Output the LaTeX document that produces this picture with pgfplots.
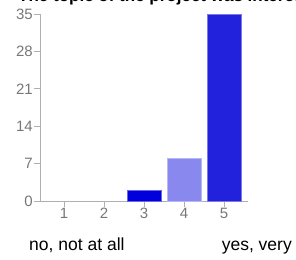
\documentclass[border=0pt]{standalone}
\usepackage{pgfplots}
\pgfplotsset{compat=1.18}
\usepackage{fontspec}
\setmainfont{Liberation Sans}
\definecolor{axgray}{HTML}{B0B0B0}
\definecolor{ticktext}{HTML}{777777}
\definecolor{barA}{HTML}{0000DD}
\definecolor{barB}{HTML}{8888EE}
\definecolor{barC}{HTML}{2222DD}
\begin{document}
\begin{tikzpicture}[x=1pt,y=1pt]
\useasboundingbox (0,0) rectangle (296,259);
\clip (0,0) rectangle (296,259);
\node[anchor=base west, inner sep=0pt, font=\fontsize{17}{20}\selectfont\bfseries] at (18,257) {The topic of the project was interesting};
\begin{axis}[
  at={(40pt,58pt)}, anchor=south west,
  scale only axis, width=208pt, height=187pt,
  xmin=0.4, xmax=5.6, ymin=0, ymax=35,
  axis x line*=bottom, axis y line*=left,
  axis line style={axgray, line width=0.8pt},
  xtick={1,2,3,4,5}, ytick={0,7,14,21,28,35},
  tick style={axgray, line width=0.8pt},
  major tick length=6pt,
  tick align=outside,
  /pgf/number format/assume math mode=true,
  ticklabel style={font=\fontsize{15}{17}\selectfont, text=ticktext, inner sep=1pt},
  ybar, bar width=34pt, bar shift=0pt,
  clip=false,
]
\addplot[fill=barA, draw=barA!60!white, line width=0.6pt] coordinates {(3,2)};
\addplot[fill=barB, draw=barB!60!white, line width=0.6pt] coordinates {(4,8)};
\addplot[fill=barC, draw=barC!60!white, line width=0.6pt] coordinates {(5,35)};
\end{axis}
\node[anchor=base west, inner sep=0pt, font=\fontsize{17.5}{20}\selectfont] at (29,9) {no, not at all};
\node[anchor=base east, inner sep=0pt, font=\fontsize{17.5}{20}\selectfont] at (292,9) {yes, very};
\end{tikzpicture}
\end{document}
